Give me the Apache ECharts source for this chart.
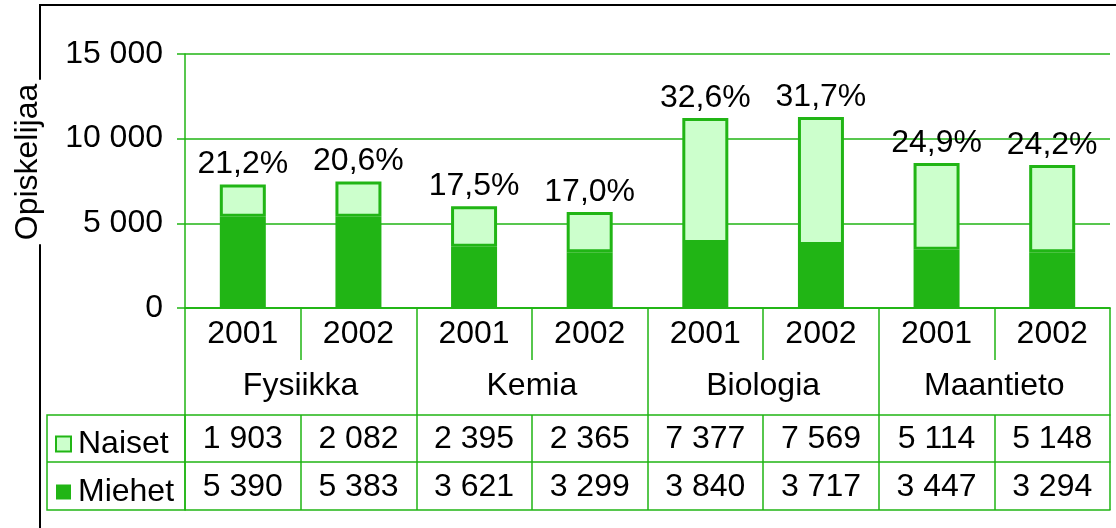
<!DOCTYPE html>
<html>
<head>
<meta charset="utf-8">
<script src="https://cdn.jsdelivr.net/npm/echarts@6/dist/echarts.min.js"></script>
<style>
  html, body { margin: 0; padding: 0; background: #fff; }
  #container { width: 1116px; height: 528px; }
</style>
</head>
<body>
<div id="container"></div>
<script>
// data
var years = ['2001', '2002', '2001', '2002', '2001', '2002', '2001', '2002']
var subjects = ['Fysiikka', 'Kemia', 'Biologia', 'Maantieto']
var naiset = [1903, 2082, 2395, 2365, 7377, 7569, 5114, 5148]
var miehet = [5390, 5383, 3621, 3299, 3840, 3717, 3447, 3294]
var osuus = ['21,2%', '20,6%', '17,5%', '17,0%', '32,6%', '31,7%', '24,9%', '24,2%']
var yTicks = [0, 5000, 10000, 15000]

var green = '#21b515'
var light = '#ccffcc'
var font = 'Liberation Sans, Arial, Helvetica, sans-serif'
var fs = 32

function fmt(v) {
  return String(v).replace(/\B(?=(\d{3})+(?!\d))/g, ' ')
}

var chart = echarts.init(document.getElementById('container'))

// table rows are extra x axes under the plot
function tableAxis(data, offset, tickLen, margin) {
  return {
    type: 'category',
    data: data,
    position: 'bottom',
    offset: offset,
    axisLine: { show: true, lineStyle: { color: green, width: 1.5 } },
    axisTick: { show: tickLen > 0, interval: 0, length: tickLen, lineStyle: { color: green, width: 1.5 } },
    axisLabel: { show: margin != null, interval: 0, margin: margin || 0, color: '#000', fontSize: fs, fontFamily: font }
  }
}

chart.setOption({
  backgroundColor: '#fff',
  animation: false,
  grid: { left: 185, right: 6, top: 54, bottom: 220, containLabel: false },
  legend: {
    data: ['Naiset', 'Miehet'],
    orient: 'vertical',
    left: 50,
    top: 423,
    icon: 'rect',
    itemWidth: 15,
    itemHeight: 15,
    itemGap: 16,
    itemStyle: { borderWidth: 2 },
    textStyle: { fontSize: fs, fontFamily: font, color: '#000', lineHeight: 32, padding: [0, 0, 0, 2] }
  },
  xAxis: [
    tableAxis(years, 0, 52, 10),
    tableAxis(subjects, 0, 107, 62),
    tableAxis(naiset.map(fmt), 107, 95, 8),
    tableAxis(miehet.map(fmt), 154, 0, 9),
    tableAxis(years, 202, 0, null)
  ],
  yAxis: {
    type: 'value',
    min: yTicks[0],
    max: yTicks[yTicks.length - 1],
    interval: 5000,
    axisLine: { show: true, lineStyle: { color: green, width: 1.5 } },
    axisTick: { show: true, length: 8, lineStyle: { color: green, width: 1.5 } },
    splitLine: { lineStyle: { color: green, width: 1.5 } },
    axisLabel: { margin: 22, color: '#000', fontSize: fs, fontFamily: font, formatter: fmt }
  },
  graphic: [
    {
      type: 'polyline',
      shape: { points: [[40, 528], [40, 5], [1116, 5]] },
      style: { stroke: '#000', lineWidth: 2, fill: null }
    },
    {
      type: 'rect',
      shape: { x: 47, y: 415, width: 138, height: 95 },
      style: { stroke: green, lineWidth: 1.5, fill: null }
    },
    {
      type: 'line',
      shape: { x1: 47, y1: 462, x2: 185, y2: 462 },
      style: { stroke: green, lineWidth: 1.5 }
    },
    {
      type: 'text',
      x: 28,
      y: 162,
      rotation: Math.PI / 2,
      style: {
        text: 'Opiskelijaa',
        fontSize: fs,
        fontFamily: font,
        fill: '#000',
        align: 'center',
        verticalAlign: 'middle',
        backgroundColor: '#fff',
        padding: [0, 4]
      }
    }
  ],
  series: [
    {
      name: 'Miehet',
      type: 'bar',
      stack: 'all',
      barWidth: 46,
      data: miehet,
      itemStyle: { color: green }
    },
    {
      name: 'Naiset',
      type: 'bar',
      stack: 'all',
      barWidth: 46,
      data: naiset,
      itemStyle: { color: light, borderColor: green, borderWidth: 3 },
      label: {
        show: true,
        position: 'top',
        distance: 4,
        color: '#000',
        fontSize: fs,
        fontFamily: font,
        formatter: function (p) { return osuus[p.dataIndex] }
      }
    }
  ]
})
</script>
</body>
</html>
